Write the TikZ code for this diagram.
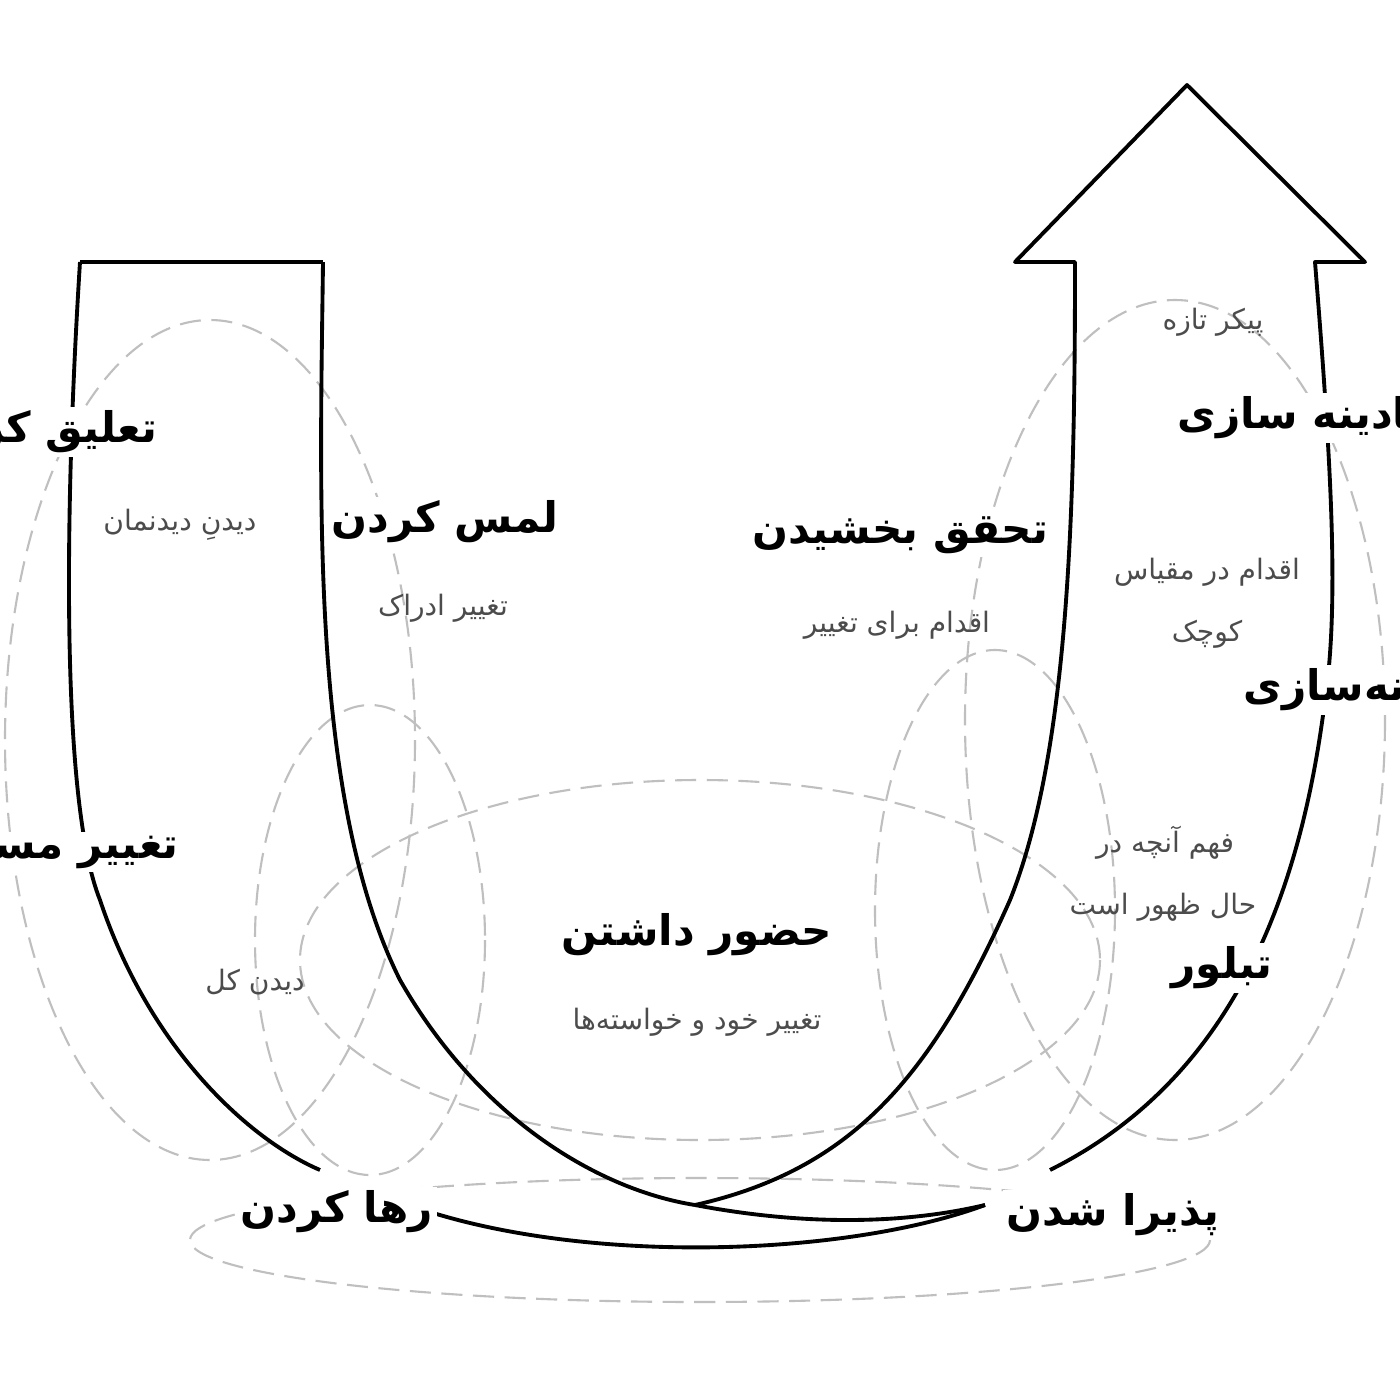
\documentclass[tikz,border=0pt]{standalone}
\usepackage{fontspec}
\TeXXeTstate=1
\newfontfamily\arabicfont[Script=Arabic]{DejaVu Sans}
\tikzset{
  head/.style={font=\arabicfont\bfseries\fontsize{24}{28}\selectfont, anchor=center, fill=white, inner sep=2pt},
  sub/.style={font=\arabicfont\fontsize{16}{20}\selectfont, text=black!70, anchor=center},
  ul/.style={line width=2.2pt, line join=round},
  dsh/.style={dashed, draw=black!25, line width=1.2pt, dash pattern=on 12pt off 6pt}
}
\begin{document}
\begin{tikzpicture}[x=0.02cm,y=-0.02cm]
\useasboundingbox (0,0) rectangle (1400,1400);
\clip (0,0) rectangle (1400,1400);
\fill[white] (0,0) rectangle (1400,1400);
% dashed ellipses
\draw[dsh] (210,740) ellipse (205 and 420);
\draw[dsh] (700,960) ellipse (400 and 180);
\draw[dsh] (700,1240) ellipse (510 and 62);
\draw[dsh] (1175,720) ellipse (210 and 420);
\draw[dsh] (370,940) ellipse (115 and 235);
\draw[dsh] (995,910) ellipse (120 and 260);
% U shape
\draw[ul] (80,262) -- (323,262);
\draw[ul] (80,262) .. controls (65,500) and (60,800) .. (100,900) .. controls (150,1050) and (250,1140) .. (320,1170);
\draw[ul] (430,1212) .. controls (600,1265) and (850,1255) .. (985,1205);
\draw[ul] (323,262) .. controls (320,500) and (310,800) .. (400,980) .. controls (480,1120) and (600,1190) .. (695,1205);
\draw[ul] (695,1205) .. controls (800,1225) and (900,1225) .. (985,1205);
\draw[ul] (695,1205) .. controls (850,1170) and (930,1080) .. (1010,900) .. controls (1070,750) and (1075,500) .. (1075,262)
  -- (1015,262) -- (1187,85) -- (1365,262) -- (1315,262) .. controls (1330,450) and (1340,600) .. (1325,700)
  .. controls (1300,900) and (1230,1080) .. (1050,1170);
% labels
\node[head] (a) at (40,432) {\beginR تعلیق کردن\endR};
\node[sub] (b) at (180,525) {\beginR دیدنِ دیدنمان\endR};
\node[head] (c) at (65,852) {\beginR تغییر مسیر\endR};
\node[sub] (d) at (255,982) {\beginR دیدن کل\endR};
\node[head] (e) at (445,522) {\beginR لمس کردن\endR};
\node[sub] (f) at (443,608) {\beginR تغییر ادراک\endR};
\node[head] (g) at (697,935) {\beginR حضور داشتن\endR};
\node[sub] (h) at (697,1022) {\beginR تغییر خود و خواسته‌ها\endR};
\node[head] (i) at (900,535) {\beginR تحقق بخشیدن\endR};
\node[sub] (j) at (897,625) {\beginR اقدام برای تغییر\endR};
\node[sub] (k) at (1213,322) {\beginR پیکر تازه\endR};
\node[head] (l) at (1315,418) {\beginR نهادینه سازی\endR};
\node[sub] (m) at (1207,572) {\beginR اقدام در مقیاس\endR};
\node[sub] (n) at (1207,634) {\beginR کوچک\endR};
\node[head] (o) at (1360,690) {\beginR نمونه‌سازی\endR};
\node[sub] (p) at (1165,843) {\beginR فهم آنچه در\endR};
\node[sub] (q) at (1163,907) {\beginR حال ظهور است\endR};
\node[head] (r) at (1222,968) {\beginR تبلور\endR};
\node[head] (s) at (337,1212) {\beginR رها کردن\endR};
\node[head] (t) at (1113,1215) {\beginR پذیرا شدن\endR};
\end{tikzpicture}
\end{document}
